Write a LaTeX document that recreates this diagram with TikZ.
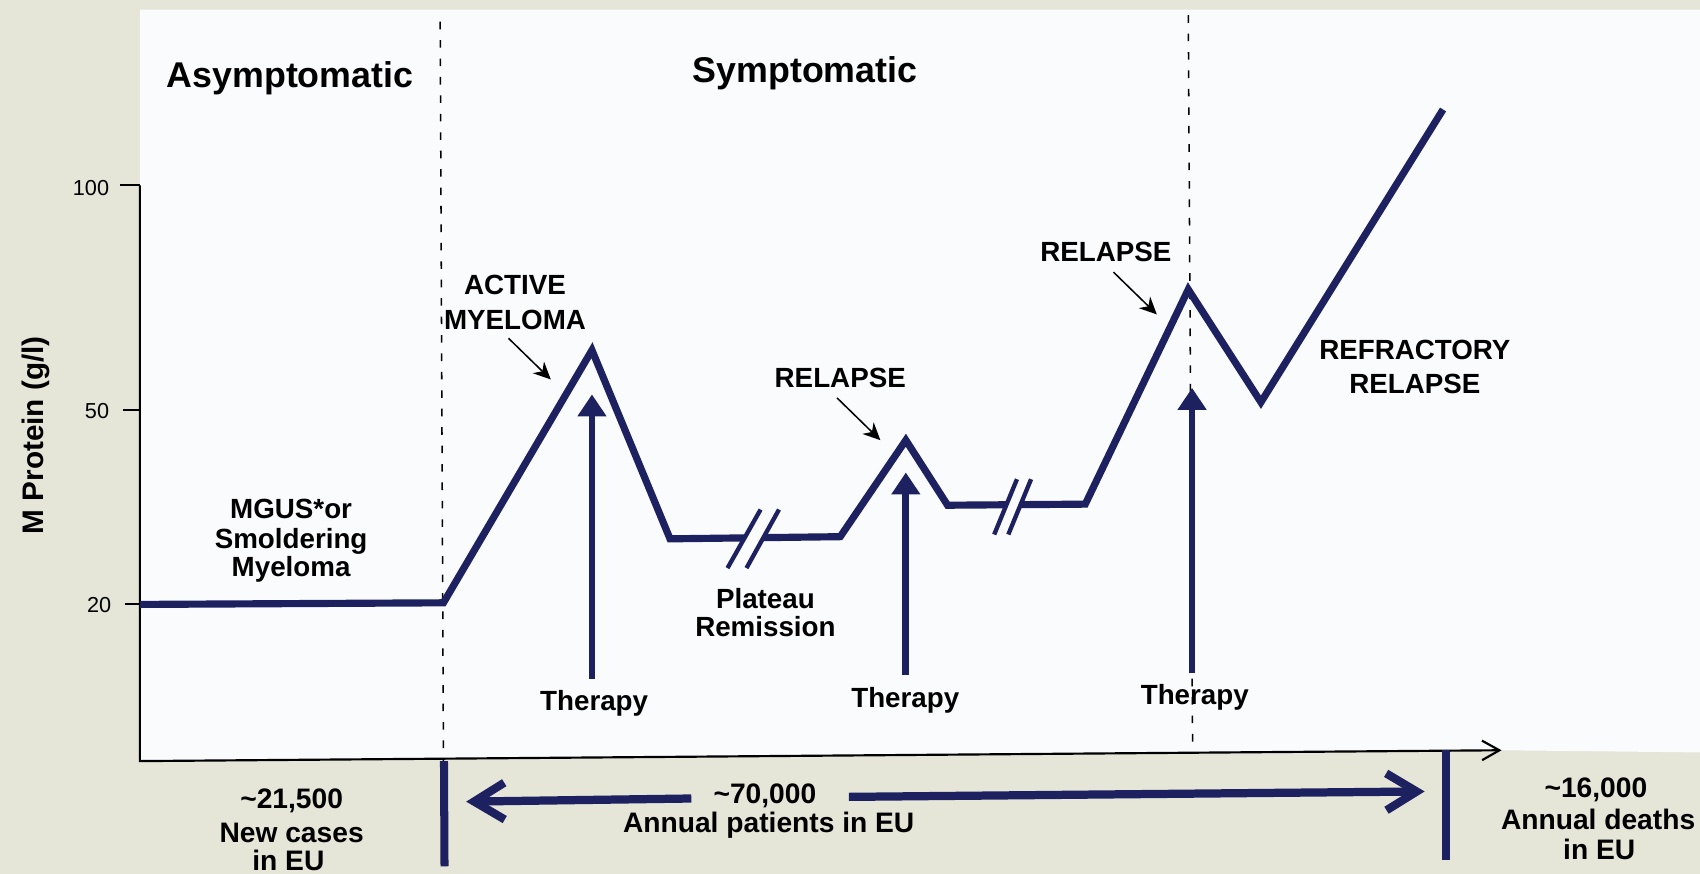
\documentclass[tikz,border=0pt]{standalone}
\usepackage{fontspec}
\setmainfont{Liberation Sans}
\usetikzlibrary{arrows.meta}
\definecolor{paper}{HTML}{E5E5D8}
\definecolor{panel}{HTML}{FAFBFD}
\definecolor{navy}{HTML}{1E2160}
\begin{document}
\begin{tikzpicture}[x=0.5pt,y=-0.5pt,
  curve/.style={navy,line width=3.3pt,line join=miter,line cap=butt},
  slash/.style={navy,line width=2pt},
  lbl/.style={font=\bfseries\fontsize{12.8}{15}\selectfont,inner sep=0pt,anchor=base},
  head/.style={font=\bfseries\fontsize{16.5}{19}\selectfont,inner sep=0pt,anchor=base},
  foot/.style={font=\bfseries\fontsize{13}{15}\selectfont,inner sep=0pt,anchor=base},
  ticklbl/.style={font=\fontsize{10}{12}\selectfont,inner sep=0pt,anchor=base east},
  axis/.style={black,line width=1pt},
  divider/.style={black,line width=0.7pt,dash pattern=on 3.5pt off 5pt},
  therapy/.style={navy,line width=3.1pt,-{Triangle[length=10pt,width=13.5pt,line width=0pt]}},
  pointer/.style={black,line width=0.7pt,-{Stealth[length=8pt,width=7.5pt,line width=0pt]}},
  span/.style={navy,line width=3.8pt,-{Straight Barb[length=14pt,width=17pt]}},
  bar/.style={navy,line width=3.7pt},
]
\useasboundingbox (0,0) rectangle (1568,806);
% paper and chart panel
\fill[paper] (0,0) rectangle (1568,806);
\fill[panel] (129,9) -- (1568,9) -- (1568,694) -- (1385,692) -- (129,702) -- cycle;

% phase dividers
\coordinate (d1t) at (406,20);
\coordinate (d1b) at (409,702);
\coordinate (d2t) at (1096,14);
\coordinate (d2b) at (1100,694);
\draw[divider] (d1t) -- (d1b);
\draw[divider] (d2t) -- (d2b);

% axes
\coordinate (ytop) at (129,171);
\coordinate (origin) at (129,702);
\coordinate (xend) at (1385,692);
\draw[axis,-{Straight Barb[length=8pt,width=9pt]}] (ytop) -- (origin) -- (xend);
\coordinate (k100) at (111,171);
\coordinate (k50) at (113,378);
\coordinate (k20) at (115,557);
\draw[axis] (k100) -- (ytop);
\draw[axis] (k50) -- (129,378);
\draw[axis] (k20) -- (129,557);
\node[ticklbl] (n100) at (101,180) {100};
\node[ticklbl] (n50) at (101,386) {50};
\node[ticklbl] (n20) at (103,564.5) {20};
\node[font=\bfseries\fontsize{13.7}{16}\selectfont,rotate=90,anchor=base,inner sep=0pt] (ylabel) at (40,401.5) {M Protein (g/l)};

% phase headings
\node[head] (asym) at (267.5,80.5) {Asymptomatic};
\node[head] (sym) at (742.5,76) {Symptomatic};

% M protein course
\coordinate (c0) at (129,557.5);
\coordinate (c1) at (409,556);
\coordinate (c2) at (546,323);
\coordinate (c3) at (618,497);
\coordinate (c4) at (775,495);
\coordinate (c5) at (835.5,406);
\coordinate (c6) at (874,466);
\coordinate (c7) at (1001,465);
\coordinate (c8) at (1096,267);
\coordinate (c9) at (1163,371);
\coordinate (c10) at (1331,101);
\draw[curve] (c0) -- (c1) -- (c2) -- (c3) -- (c4) -- (c5) -- (c6) -- (c7) -- (c8) -- (c9) -- (c10);

% time breaks on the plateaus
\fill[panel] (682.9,504) -- (691.4,488) -- (708.5,488) -- (700.2,504) -- cycle;
\coordinate (b1a) at (671,524);   \coordinate (b1b) at (701.5,470);
\coordinate (b1c) at (688.5,524); \coordinate (b1d) at (718.5,470);
\draw[slash] (b1a) -- (b1b);
\draw[slash] (b1c) -- (b1d);
\fill[panel] (925.2,473) -- (931.8,457) -- (944.8,457) -- (938.2,473) -- cycle;
\coordinate (b2a) at (917,493); \coordinate (b2b) at (938,442);
\coordinate (b2c) at (930,493); \coordinate (b2d) at (951,442);
\draw[slash] (b2a) -- (b2b);
\draw[slash] (b2c) -- (b2d);

% therapy arrows
\coordinate (t1b) at (546,626);    \coordinate (t1t) at (546,364);
\coordinate (t2b) at (835.5,623);  \coordinate (t2t) at (835.5,436);
\coordinate (t3b) at (1099.5,621); \coordinate (t3t) at (1099.5,358);
\draw[therapy] (t1b) -- (t1t);
\draw[therapy] (t2b) -- (t2t);
\draw[therapy] (t3b) -- (t3t);
\node[lbl] (ther1) at (548,655) {Therapy};
\node[lbl] (ther2) at (835,653) {Therapy};
\node[lbl] (ther3) at (1102,650) {Therapy};

% stage labels
\node[lbl] (mgus1) at (268.5,478.5) {MGUS*or};
\node[lbl] (mgus2) at (268.5,505.5) {Smoldering};
\node[lbl] (mgus3) at (268.5,532) {Myeloma};
\node[lbl] (act1) at (475,272) {ACTIVE};
\node[lbl] (act2) at (475,304) {MYELOMA};
\node[lbl] (rel1) at (775,357) {RELAPSE};
\node[lbl] (rel2) at (1020,241.5) {RELAPSE};
\node[lbl] (ref1) at (1305,332) {REFRACTORY};
\node[lbl] (ref2) at (1305,363) {RELAPSE};
\node[lbl] (plat1) at (706,561) {Plateau};
\node[lbl] (plat2) at (706,587) {Remission};

% pointers to the peaks
\coordinate (p1s) at (469,312);  \coordinate (p1e) at (508,350);
\coordinate (p2s) at (772,367);  \coordinate (p2e) at (812,406);
\coordinate (p3s) at (1027,251); \coordinate (p3e) at (1067,290);
\draw[pointer] (p1s) -- (p1e);
\draw[pointer] (p2s) -- (p2e);
\draw[pointer] (p3s) -- (p3e);

% population figures
\coordinate (bar1t) at (409.5,702); \coordinate (bar1b) at (410,799);
\coordinate (bar2t) at (1333.5,692); \coordinate (bar2b) at (1333.5,793);
\draw[bar] (bar1t) -- (bar1b);
\draw[bar] (bar2t) -- (bar2b);
\coordinate (spanL) at (430,739.4);
\coordinate (gapL) at (637.6,736.5);
\coordinate (gapR) at (783,735);
\coordinate (spanR) at (1314,730);
\draw[span] (gapL) -- (spanL);
\draw[span] (gapR) -- (spanR);

\node[foot] (new1) at (269,746) {\textasciitilde21,500};
\node[foot] (new2) at (269,777) {New cases};
\node[foot] (new3) at (266,803) {in EU};
\node[foot] (pat1) at (705.5,741) {\textasciitilde70,000};
\node[foot] (pat2) at (709,768) {Annual patients in EU};
\node[foot] (dth1) at (1472,736) {\textasciitilde16,000};
\node[foot] (dth2) at (1474,765) {Annual deaths};
\node[foot] (dth3) at (1475,793) {in EU};
\end{tikzpicture}
\end{document}
